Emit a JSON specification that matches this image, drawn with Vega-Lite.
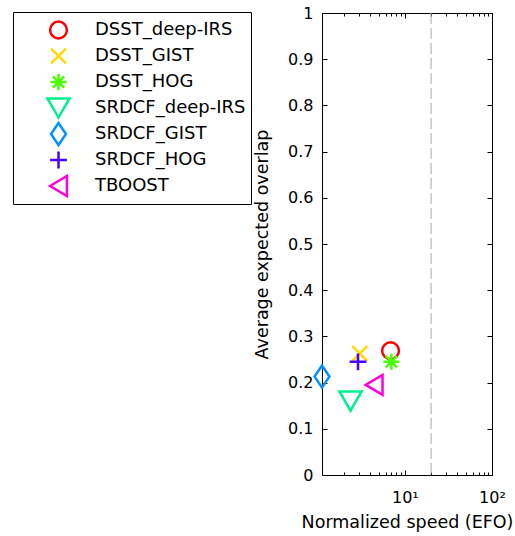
{
  "$schema": "https://vega.github.io/schema/vega-lite/v6.json",
  "width": 170,
  "height": 462,
  "autosize": {"type": "none"},
  "padding": {"left": 322, "top": 13, "right": 23, "bottom": 61},
  "background": "white",
  "config": {
    "font": "DejaVu Sans",
    "view": {"stroke": null},
    "axis": {
      "domainColor": "black",
      "tickColor": "black",
      "labelColor": "black",
      "titleColor": "black",
      "grid": false,
      "labelFont": "DejaVu Sans",
      "titleFont": "DejaVu Sans",
      "labelFontSize": 16,
      "titleFontSize": 17.5,
      "titleFontWeight": "normal",
      "labelFlush": false,
      "labelOverlap": false
    }
  },
  "data": {
    "values": [
      {"tracker": "DSST_deep-IRS", "speed": 6.85, "eao": 0.269},
      {"tracker": "DSST_GIST", "speed": 3.04, "eao": 0.263},
      {"tracker": "DSST_HOG", "speed": 7.0, "eao": 0.245},
      {"tracker": "SRDCF_deep-IRS", "speed": 2.38, "eao": 0.16},
      {"tracker": "SRDCF_GIST", "speed": 1.12, "eao": 0.213},
      {"tracker": "SRDCF_HOG", "speed": 2.9, "eao": 0.245},
      {"tracker": "TBOOST", "speed": 4.44, "eao": 0.195}
    ]
  },
  "layer": [
    {
      "mark": {"type": "point", "filled": false, "size": 576, "strokeWidth": 2.5, "opacity": 1},
      "encoding": {
        "x": {
          "field": "speed",
          "type": "quantitative",
          "scale": {"type": "log", "domain": [1.12, 100], "nice": false},
          "axis": {
            "orient": "bottom",
            "values": [2, 3, 4, 5, 6, 7, 8, 9, 10, 20, 30, 40, 50, 60, 70, 80, 90, 100],
            "labelExpr": "datum.value == 10 ? '10¹' : (datum.value == 100 ? '10²' : '')",
            "tickSize": {"condition": {"test": "datum.value == 10 || datum.value == 100", "value": -5}, "value": -3},
            "labelPadding": 19,
            "title": "Normalized speed (EFO)",
            "titlePadding": 6
          }
        },
        "y": {
          "field": "eao",
          "type": "quantitative",
          "scale": {"domain": [0, 1], "nice": false, "zero": false},
          "axis": {
            "orient": "left",
            "values": [0, 0.1, 0.2, 0.3, 0.4, 0.5, 0.6, 0.7, 0.8, 0.9, 1],
            "format": ".1~f",
            "tickSize": -5,
            "labelPadding": 14,
            "title": "Average expected overlap",
            "titlePadding": 16
          }
        },
        "color": {
          "field": "tracker",
          "type": "nominal",
          "scale": {
            "domain": ["DSST_deep-IRS", "DSST_GIST", "DSST_HOG", "SRDCF_deep-IRS", "SRDCF_GIST", "SRDCF_HOG", "TBOOST"],
            "range": ["#FF0000", "#FFDB00", "#49FF00", "#00F08C", "#0092FF", "#4900FF", "#FF00DB"]
          },
          "legend": {
            "title": null,
            "orient": "none",
            "legendX": -309,
            "legendY": -1,
            "padding": 5,
            "fillColor": "white",
            "strokeColor": "black",
            "symbolSize": 576,
            "symbolStrokeWidth": 2.5,
            "symbolOffset": 27,
            "labelOffset": 23,
            "rowPadding": 0,
            "clipHeight": 26,
            "labelFont": "DejaVu Sans",
            "labelFontSize": 18,
            "labelColor": "black",
            "labelLimit": 400
          }
        },
        "shape": {
          "field": "tracker",
          "type": "nominal",
          "scale": {
            "domain": ["DSST_deep-IRS", "DSST_GIST", "DSST_HOG", "SRDCF_deep-IRS", "SRDCF_GIST", "SRDCF_HOG", "TBOOST"],
            "range": [
              "M0.7,0A0.7,0.7,0,1,1,-0.7,0A0.7,0.7,0,1,1,0.7,0Z",
              "M-0.62,-0.62L0.62,0.62M-0.62,0.62L0.62,-0.62",
              "M-0.67,0L0.67,0M0,-0.67L0,0.67M-0.47,-0.47L0.47,0.47M-0.47,0.47L0.47,-0.47",
              "M-0.92,-0.8L0.92,-0.8L0,0.8Z",
              "M0,-0.92L0.62,0L0,0.92L-0.62,0Z",
              "M-0.7,0L0.7,0M0,-0.7L0,0.7",
              "M-0.7,0L0.7,-0.83L0.7,0.83Z"
            ]
          },
          "legend": {
            "title": null,
            "orient": "none",
            "legendX": -309,
            "legendY": -1,
            "padding": 5,
            "fillColor": "white",
            "strokeColor": "black",
            "symbolSize": 576,
            "symbolStrokeWidth": 2.5,
            "symbolOffset": 27,
            "labelOffset": 23,
            "rowPadding": 0,
            "clipHeight": 26,
            "labelFont": "DejaVu Sans",
            "labelFontSize": 18,
            "labelColor": "black",
            "labelLimit": 400
          }
        }
      }
    },
    {
      "data": {"values": [{"speed": 20}]},
      "mark": {"type": "rule", "color": "#AAAAAA", "strokeDash": [11, 4], "strokeWidth": 1},
      "encoding": {
        "x": {
          "field": "speed",
          "type": "quantitative",
          "axis": {
            "orient": "top",
            "values": [2, 3, 4, 5, 6, 7, 8, 9, 10, 20, 30, 40, 50, 60, 70, 80, 90, 100],
            "labels": false,
            "title": null,
            "tickSize": {"condition": {"test": "datum.value == 10 || datum.value == 100", "value": -5}, "value": -3}
          }
        }
      }
    },
    {
      "mark": {"type": "point", "opacity": 0},
      "encoding": {
        "x": {"field": "speed", "type": "quantitative", "axis": null},
        "y": {
          "field": "eao",
          "type": "quantitative",
          "axis": {
            "orient": "right",
            "values": [0, 0.1, 0.2, 0.3, 0.4, 0.5, 0.6, 0.7, 0.8, 0.9, 1],
            "labels": false,
            "title": null,
            "tickSize": -5
          }
        }
      }
    }
  ],
  "resolve": {"axis": {"x": "independent", "y": "independent"}}
}
